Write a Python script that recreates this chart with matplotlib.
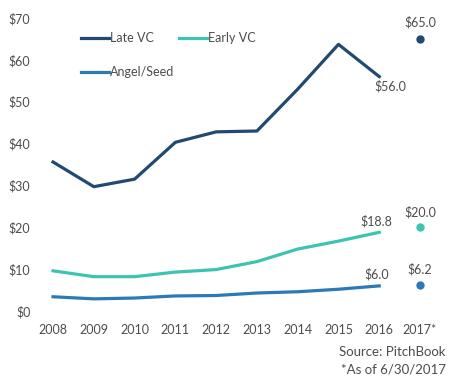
import matplotlib.pyplot as plt

# Données (en milliards $)
annees = ['2008', '2009', '2010', '2011', '2012', '2013', '2014', '2015', '2016', '2017*']
late_vc = [35.6, 29.7, 31.5, 40.3, 42.8, 43.0, 53.0, 63.7, 56.0]
early_vc = [9.6, 8.2, 8.2, 9.3, 9.9, 11.8, 14.8, 16.7, 18.8]
angel_seed = [3.4, 2.9, 3.1, 3.6, 3.7, 4.3, 4.6, 5.2, 6.0]
ytd_2017 = {'Late VC': 65.0, 'Early VC': 20.0, 'Angel/Seed': 6.2}

c_late = '#22496f'
c_early = '#3cc4b0'
c_angel = '#2b79b6'
gris = '#4d4d4d'

plt.rcParams['font.family'] = ['Lato', 'DejaVu Sans']

fig = plt.figure(figsize=(4.56, 3.84), dpi=100)
ax = fig.add_axes([40 / 456, 73 / 384, 400 / 456, 293 / 384])

x = list(range(len(late_vc)))
x17 = len(annees) - 1

ax.plot(x, late_vc, color=c_late, lw=2.3, label='Late VC', clip_on=False)
ax.plot(x, angel_seed, color=c_angel, lw=2.3, label='Angel/Seed', clip_on=False)
ax.plot(x, early_vc, color=c_early, lw=2.3, label='Early VC', clip_on=False)

ax.plot(x17, ytd_2017['Late VC'], 'o', color=c_late, ms=5)
ax.plot(x17, ytd_2017['Early VC'], 'o', color=c_early, ms=5)
ax.plot(x17, ytd_2017['Angel/Seed'], 'o', color=c_angel, ms=5)

# Étiquettes de valeurs
fs = 9
ax.annotate(f"${ytd_2017['Late VC']:.1f}", (x17, ytd_2017['Late VC']), xytext=(0, 9),
            textcoords='offset points', ha='center', fontsize=fs, color=gris)
ax.annotate(f"${late_vc[-1]:.1f}", (x[-1], late_vc[-1]), xytext=(8, -10),
            textcoords='offset points', ha='center', fontsize=fs, color=gris)
ax.annotate(f"${early_vc[-1]:.1f}", (x[-1], early_vc[-1]), xytext=(-2, 5),
            textcoords='offset points', ha='center', fontsize=fs, color=gris)
ax.annotate(f"${ytd_2017['Early VC']:.1f}", (x17, ytd_2017['Early VC']), xytext=(0, 8),
            textcoords='offset points', ha='center', fontsize=fs, color=gris)
ax.annotate(f"${angel_seed[-1]:.1f}", (x[-1], angel_seed[-1]), xytext=(-2, 5),
            textcoords='offset points', ha='center', fontsize=fs, color=gris)
ax.annotate(f"${ytd_2017['Angel/Seed']:.1f}", (x17, ytd_2017['Angel/Seed']), xytext=(0, 8),
            textcoords='offset points', ha='center', fontsize=fs, color=gris)

ax.set_xlim(-0.32, 9.49)
ax.set_ylim(0, 70)
ax.set_xticks(range(len(annees)))
ax.set_xticklabels(annees)
ax.set_yticks(range(0, 71, 10))
ax.set_yticklabels([f"${v}" for v in range(0, 71, 10)])
ax.tick_params(length=0, labelsize=fs, colors=gris)
ax.tick_params(axis='x', pad=9)
ax.tick_params(axis='y', pad=7)
for s in ax.spines.values():
    s.set_visible(False)

ax.legend(ncol=2, loc='upper left', bbox_to_anchor=(0.075, 0.99), frameon=False,
          fontsize=fs, handlelength=2.2, handletextpad=0.1, columnspacing=0.4,
          labelspacing=1.75, labelcolor=gris)

fig.text(446 / 456, 1 - 352 / 384, 'Source: PitchBook', ha='right', va='center',
         fontsize=9.5, color=gris)
fig.text(446 / 456, 1 - 370 / 384, '*As of 6/30/2017', ha='right', va='center',
         fontsize=9.5, color=gris)

fig.savefig('out.png', dpi=100)
